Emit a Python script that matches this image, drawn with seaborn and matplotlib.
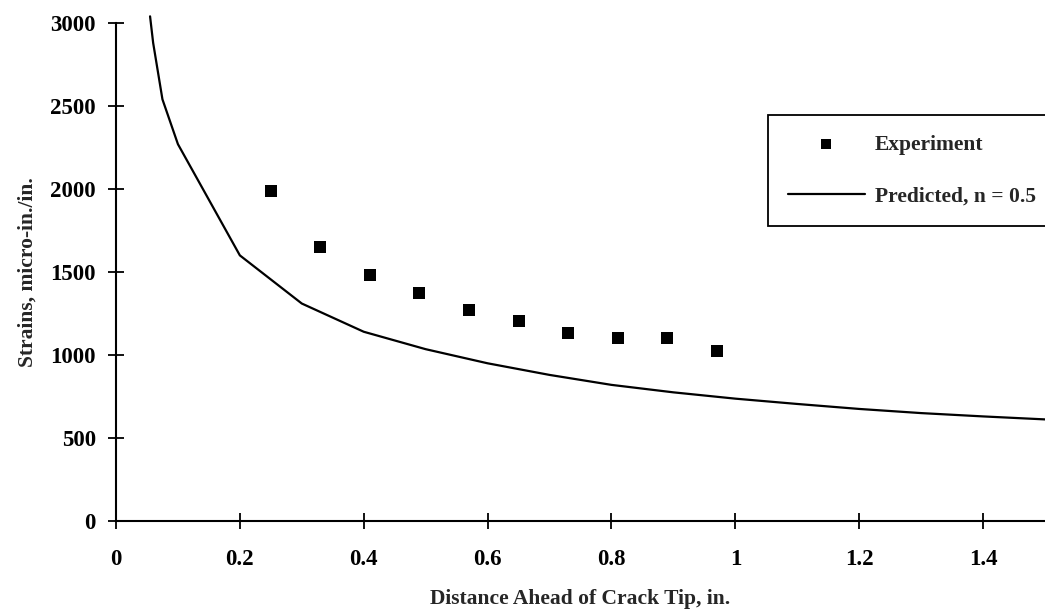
"""Strain ahead of crack tip: experiment vs predicted (n = 0.5)"""

import matplotlib
matplotlib.use("Agg")
import matplotlib.pyplot as plt
import pandas as pd
import seaborn as sns

exp_x = [0.25, 0.33, 0.41, 0.49, 0.57, 0.65, 0.73, 0.81, 0.89, 0.97]
exp_strain = [1985, 1650, 1480, 1375, 1270, 1205, 1130, 1100, 1100, 1025]

# 预测曲线
pred_x = [0.055, 0.06, 0.075, 0.1, 0.2, 0.3, 0.4, 0.5, 0.6, 0.7, 0.8,
          0.9, 1.0, 1.1, 1.2, 1.3, 1.4, 1.5]
pred_strain = [3040, 2880, 2540, 2270, 1600, 1310, 1140, 1035, 950, 880, 820,
               775, 737, 705, 675, 650, 630, 612]

x_ticks = [0, 0.2, 0.4, 0.6, 0.8, 1, 1.2, 1.4]
x_ticklabels = ["0", "0.2", "0.4", "0.6", "0.8", "1", "1.2", "1.4"]
y_ticks = [0, 500, 1000, 1500, 2000, 2500, 3000]

exp_df = pd.DataFrame({"x": exp_x, "strain": exp_strain})
pred_df = pd.DataFrame({"x": pred_x, "strain": pred_strain})

sns.set_style("ticks")
plt.rcParams["font.family"] = ["Liberation Serif", "DejaVu Serif"]
plt.rcParams["font.weight"] = "bold"
plt.rcParams["axes.labelweight"] = "bold"
FS = 16

fig = plt.figure(figsize=(10.45, 6.11), dpi=100)
ax = fig.add_axes([0.111, 0.1473, 0.889, 0.8151])

sns.scatterplot(data=exp_df, x="x", y="strain", marker="s", s=70, color="black",
                edgecolor="black", linewidth=0, ax=ax, label="Experiment", zorder=3)
sns.lineplot(data=pred_df, x="x", y="strain", color="black", linewidth=1.6,
             ax=ax, label="Predicted, n = 0.5", clip_on=False)

ax.set_xlim(0, 1.5)
ax.set_ylim(0, 3000)
ax.set_xticks(x_ticks)
ax.set_xticklabels(x_ticklabels)
ax.set_yticks(y_ticks)
ax.tick_params(direction="inout", length=11, width=1.3, colors="black",
               labelsize=FS + 0.5)
ax.tick_params(axis="x", pad=15)
ax.tick_params(axis="y", pad=9)

for side in ["top", "right"]:
    ax.spines[side].set_visible(False)
for side in ["left", "bottom"]:
    ax.spines[side].set_linewidth(1.5)
    ax.spines[side].set_color("black")

ax.set_xlabel("Distance Ahead of Crack Tip, in.", fontsize=FS - 0.5, labelpad=13)
ax.set_ylabel("Strains, micro-in./in.", fontsize=FS - 0.5, labelpad=9)

leg = ax.legend(loc="upper left", bbox_to_anchor=(0.702, 0.815), fontsize=FS - 0.5,
                frameon=True, fancybox=False, edgecolor="black", framealpha=1,
                handlelength=3.6, handletextpad=0.45, labelspacing=1.5,
                borderpad=0.9, borderaxespad=0, markerscale=0.8)
leg.get_frame().set_linewidth(1.3)

fig.savefig("out.png", dpi=100)
